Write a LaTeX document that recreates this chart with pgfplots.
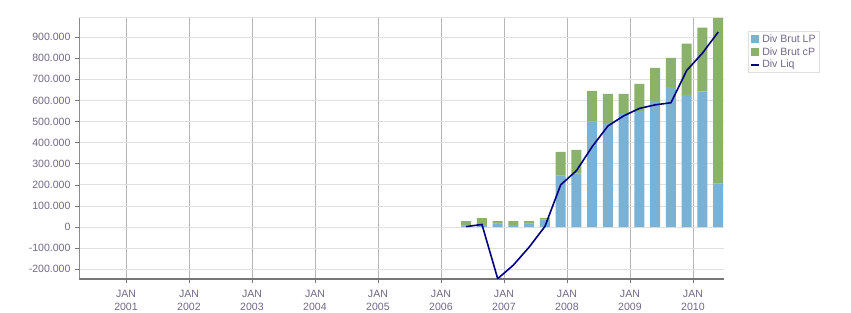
\documentclass[border=0pt]{standalone}
\usepackage{fontspec}
\setmainfont{Liberation Sans}
\usepackage{pgfplots}
\usepackage{pgfplotstable}
\pgfplotsset{compat=1.18}
\definecolor{lpblue}{RGB}{122,178,213}
\definecolor{cpgreen}{RGB}{139,178,106}
\definecolor{liqnavy}{RGB}{0,0,128}
\definecolor{ticktext}{RGB}{112,104,136}
\definecolor{hgrid}{RGB}{224,224,224}
\definecolor{vgrid}{RGB}{182,182,182}
\definecolor{axisgray}{RGB}{118,118,118}

\pgfplotstableread{
x lp cp liq
2006.40 6300 22100 2000
2006.65 9000 33600 12000
2006.90 15800 12600 -245000
2007.15 9500 18900 -180000
2007.40 15800 12600 -95000
2007.65 36000 7500 3000
2007.90 243700 112300 200000
2008.15 253000 112500 267000
2008.40 500000 145600 381000
2008.65 492000 139000 479000
2008.90 539500 91500 527000
2009.15 550600 128200 562000
2009.40 598000 156700 579000
2009.65 663000 139000 589000
2009.90 626600 242100 742000
2010.15 642400 302200 824000
2010.40 205700 784800 924000
}\data

\pgfplotsset{
  common/.style={
    scale only axis, width=645bp, height=262bp,
    at={(79bp,34bp)}, anchor=south west,
    xmin=2000.254, xmax=2010.492,
    ymin=-246400, ymax=995300,
  }
}

\begin{document}
\begin{tikzpicture}
\fill[white] (0,0) rectangle (851bp,313bp);
\path[use as bounding box] (0,0) rectangle (851bp,313bp);
\begin{axis}[
  common,
  ybar stacked, bar width=10bp,
  axis x line*=bottom, axis y line*=left,
  x axis line style={draw=axisgray, line width=2bp, -},
  y axis line style={draw=axisgray!85, line width=0.9bp, -},
  xtick={2001,2002,...,2010},
  xticklabels={{JAN\\2001},{JAN\\2002},{JAN\\2003},{JAN\\2004},{JAN\\2005},{JAN\\2006},{JAN\\2007},{JAN\\2008},{JAN\\2009},{JAN\\2010}},
  minor x tick num=3,
  ytick={-200000,-100000,...,900000},
  scaled y ticks=false,
  /pgf/number format/.cd, fixed, 1000 sep={.}, assume math mode=true,
  /pgfplots/.cd,
  tick align=outside,
  major tick length=4bp, minor tick length=3bp,
  tick style={draw=axisgray, line width=0.6bp},
  xmajorgrids, ymajorgrids,
  x grid style={draw=vgrid, line width=0.8bp},
  y grid style={draw=hgrid, line width=0.8bp},
  tick label style={font=\fontsize{10.6}{13}\selectfont, text=ticktext},
  xticklabel style={align=center, yshift=-3.5bp},
  yticklabel style={xshift=-1bp},
  legend style={at={(1.037,0.947)}, anchor=north west, draw=hgrid, line width=0.8bp,
    fill=white, font=\fontsize{10.6}{12.5}\selectfont, text=ticktext,
    inner xsep=2bp, inner ysep=1.5bp, row sep=-0.5bp},
  legend cell align=left,
]
\addplot[fill=lpblue, draw=none, legend image code/.code={\fill[lpblue] (0bp,-4bp) rectangle (8bp,4bp);}] table[x=x, y=lp] {\data};
\addlegendentry{Div Brut LP}
\addplot[fill=cpgreen, draw=none, legend image code/.code={\fill[cpgreen] (0bp,-4bp) rectangle (8bp,4bp);}] table[x=x, y=cp] {\data};
\addlegendentry{Div Brut cP}
\addlegendimage{legend image code/.code={\draw[liqnavy, line width=2bp] (0bp,0bp) -- (8bp,0bp);}}
\addlegendentry{Div Liq}
\draw[hgrid, line width=0.8bp] (rel axis cs:0,1) -- (rel axis cs:1,1);
\end{axis}
\begin{axis}[
  common,
  axis lines=none, ticks=none,
]
\addplot[liqnavy, line width=1.6bp, mark=none] table[x=x, y=liq] {\data};
\end{axis}
\end{tikzpicture}
\end{document}
